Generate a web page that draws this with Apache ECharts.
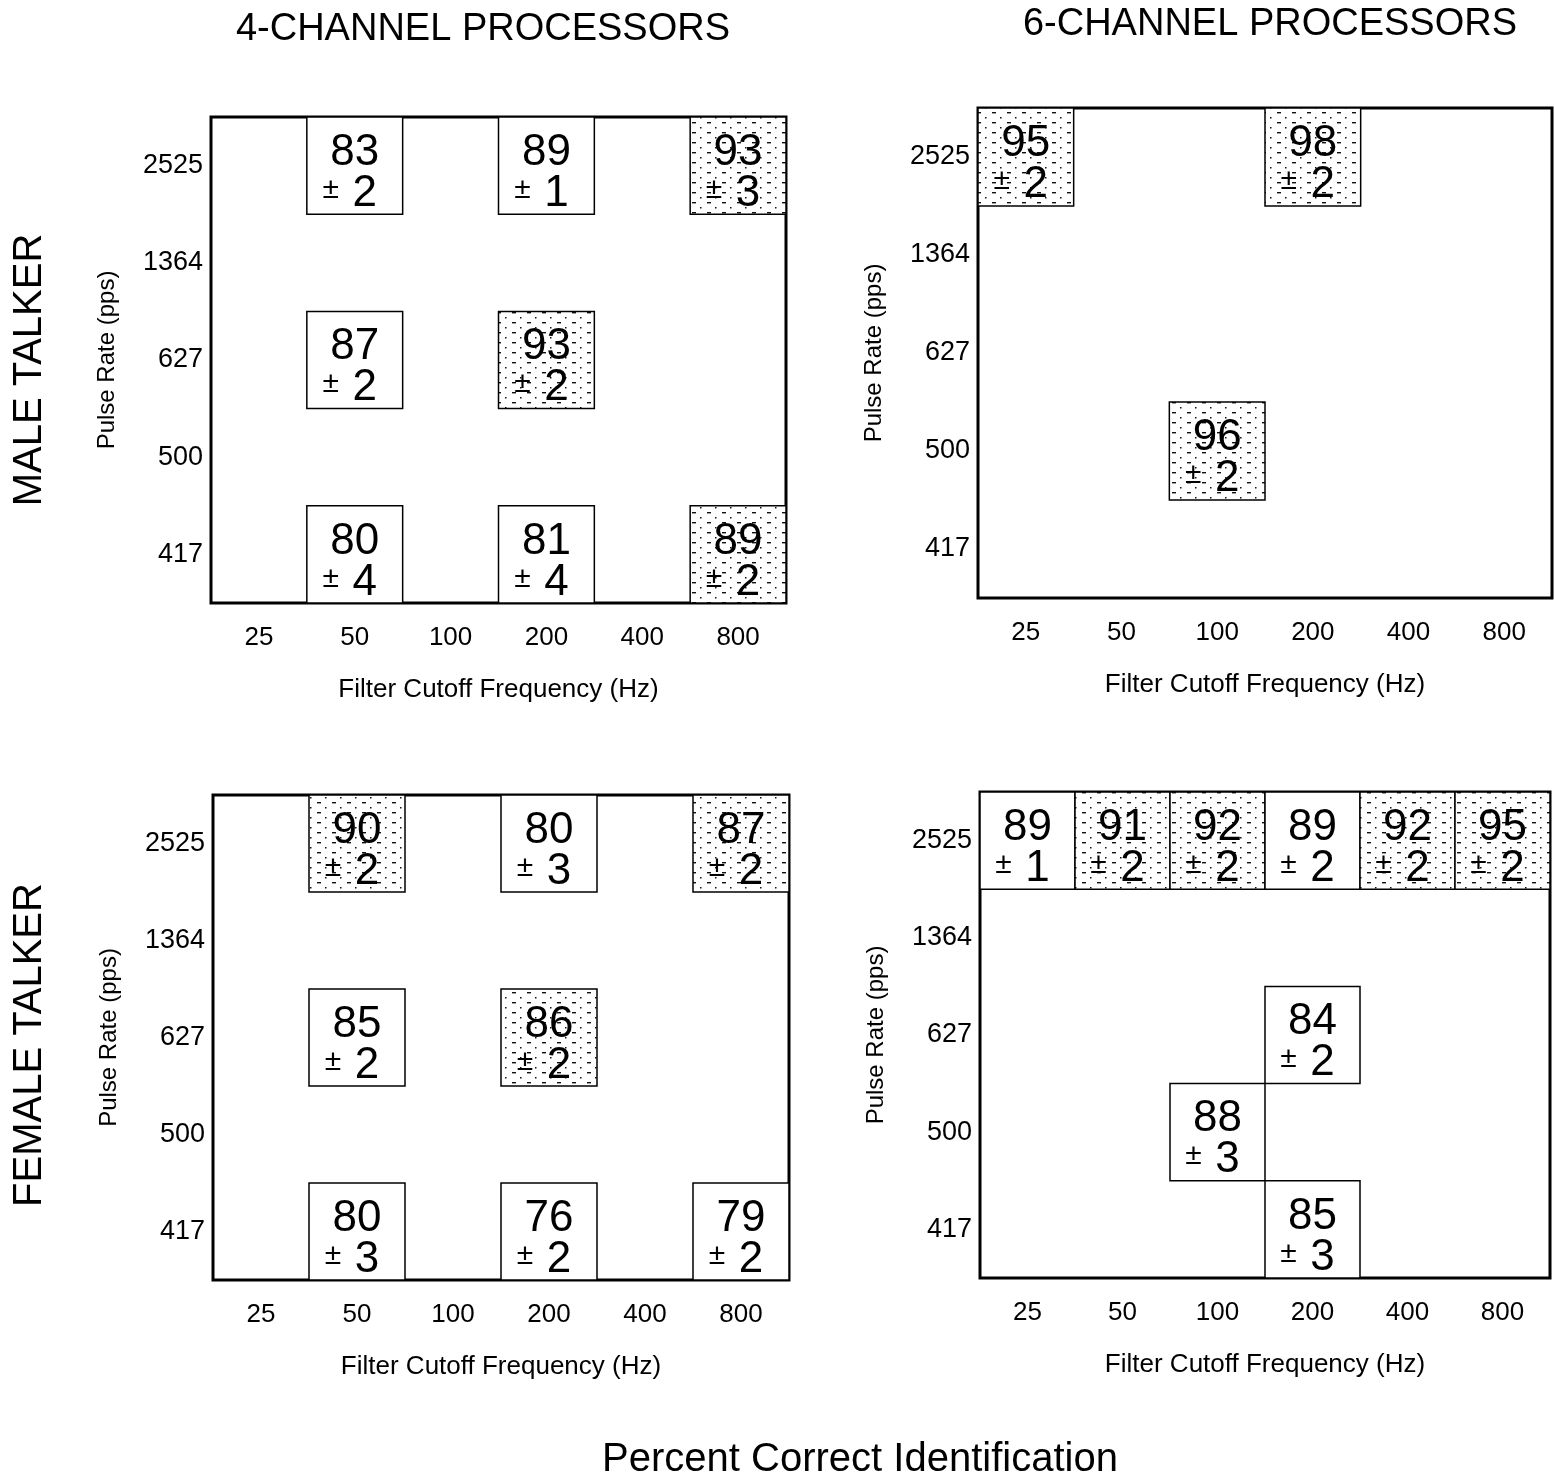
<!DOCTYPE html>
<html><head><meta charset="utf-8">
<script src="https://cdn.jsdelivr.net/npm/echarts@6/dist/echarts.min.js"></script>
<style>html,body{margin:0;padding:0;background:#fff}#c{width:1554px;height:1482px}</style>
</head><body><div id="c"></div>
<script>
// ---- data ----
const freqLabels = ['25','50','100','200','400','800'];
const rateLabels = ['417','500','627','1364','2525'];
// [frequency, pulse rate, percent correct, ± sd, shaded(1)]
const male4ch = [
  ['50','2525',83,2,0],['200','2525',89,1,0],['800','2525',93,3,1],
  ['50','627',87,2,0],['200','627',93,2,1],
  ['50','417',80,4,0],['200','417',81,4,0],['800','417',89,2,1]
];
const male6ch = [
  ['25','2525',95,2,1],['200','2525',98,2,1],
  ['100','500',96,2,1]
];
const female4ch = [
  ['50','2525',90,2,1],['200','2525',80,3,0],['800','2525',87,2,1],
  ['50','627',85,2,0],['200','627',86,2,1],
  ['50','417',80,3,0],['200','417',76,2,0],['800','417',79,2,0]
];
const female6ch = [
  ['25','2525',89,1,0],['50','2525',91,2,1],['100','2525',92,2,1],
  ['200','2525',89,2,0],['400','2525',92,2,1],['800','2525',95,2,1],
  ['200','627',84,2,0],
  ['100','500',88,3,0],
  ['200','417',85,3,0]
];
const colTitles = ['4-CHANNEL PROCESSORS','6-CHANNEL PROCESSORS'];
const rowTitles = ['MALE TALKER','FEMALE TALKER'];
const xName = 'Filter Cutoff Frequency (Hz)';
const yName = 'Pulse Rate (pps)';
const footTitle = 'Percent Correct Identification';

// ---- style ----
const FONT = '"Liberation Sans", "DejaVu Sans", sans-serif';
function makePattern(){
  const cv = document.createElement('canvas');
  cv.width = 15; cv.height = 10;
  const g = cv.getContext('2d');
  g.fillStyle = '#fff'; g.fillRect(0,0,15,10);
  g.fillStyle = '#111';
  g.fillRect(2,2,4,1.4);
  g.fillRect(10,7,1.5,1.5);
  return cv;
}
const patternFill = {image: makePattern(), repeat: 'repeat'};

function renderItem(params, api){
  const c = api.coord([api.value(0), api.value(1)]);
  const s = api.size([1,1]);
  const pct = api.value(2), sd = api.value(3), shaded = api.value(4);
  return {type:'group', children:[
    {type:'rect', shape:{x:c[0]-s[0]/2, y:c[1]-s[1]/2, width:s[0], height:s[1]},
     style:{fill: shaded ? patternFill : '#fff', stroke:'#000', lineWidth:1.5}},
    {type:'text', x:c[0], y:c[1]-13, style:{text:String(pct), align:'center', verticalAlign:'middle',
      fontSize:44, fontFamily:FONT, fill:'#000'}},
    {type:'text', x:c[0]-24, y:c[1]+24, style:{text:'±', align:'center', verticalAlign:'middle',
      fontSize:30, fontFamily:FONT, fill:'#000'}},
    {type:'text', x:c[0]+10, y:c[1]+28, style:{text:String(sd), align:'center', verticalAlign:'middle',
      fontSize:44, fontFamily:FONT, fill:'#000'}}
  ]};
}

const grids = [
  {left:211, top:117, width:575, height:486},
  {left:978, top:108, width:574, height:490},
  {left:213, top:795, width:576, height:485},
  {left:980, top:792, width:570, height:486}
];
const panels = [male4ch, male6ch, female4ch, female6ch];

const option = {
  backgroundColor:'#fff',
  animation:false,
  grid: grids.map(g => Object.assign({show:true, borderColor:'#000', borderWidth:3, backgroundColor:'transparent', containLabel:false}, g)),
  xAxis: grids.map((g,i) => ({
    type:'category', gridIndex:i, data:freqLabels, boundaryGap:true,
    axisLine:{show:false}, axisTick:{show:false}, splitLine:{show:false},
    axisLabel:{color:'#000', fontSize:26, fontFamily:FONT, margin:22},
    name:xName, nameLocation:'middle', nameGap:74,
    nameTextStyle:{color:'#000', fontSize:26, fontFamily:FONT}
  })),
  yAxis: grids.map((g,i) => ({
    type:'category', gridIndex:i, data:rateLabels, boundaryGap:true,
    axisLine:{show:false}, axisTick:{show:false}, splitLine:{show:false},
    axisLabel:{color:'#000', fontSize:27, fontFamily:FONT, margin:8, padding:[0,0,12,0]},
    name:yName, nameLocation:'middle', nameGap:92,
    nameTextStyle:{color:'#000', fontSize:24, fontFamily:FONT}
  })),
  series: panels.map((d,i) => ({
    type:'custom', xAxisIndex:i, yAxisIndex:i, data:d,
    encode:{x:0, y:1}, renderItem:renderItem, clip:false
  })),
  graphic:[
    {type:'text', x:483, y:30, style:{text:colTitles[0], align:'center', verticalAlign:'middle', fontSize:38, fontFamily:FONT, fill:'#000'}},
    {type:'text', x:1270, y:25, style:{text:colTitles[1], align:'center', verticalAlign:'middle', fontSize:38, fontFamily:FONT, fill:'#000'}},
    {type:'text', x:30, y:370, rotation:Math.PI/2, style:{text:rowTitles[0], align:'center', verticalAlign:'middle', fontSize:40, fontFamily:FONT, fill:'#000'}},
    {type:'text', x:30, y:1045, rotation:Math.PI/2, style:{text:rowTitles[1], align:'center', verticalAlign:'middle', fontSize:40, fontFamily:FONT, fill:'#000'}},
    {type:'text', x:860, y:1460, style:{text:footTitle, align:'center', verticalAlign:'middle', fontSize:40, fontFamily:FONT, fill:'#000'}}
  ]
};
const chart = echarts.init(document.getElementById('c'), null, {renderer:'canvas'});
chart.setOption(option);
</script></body></html>
